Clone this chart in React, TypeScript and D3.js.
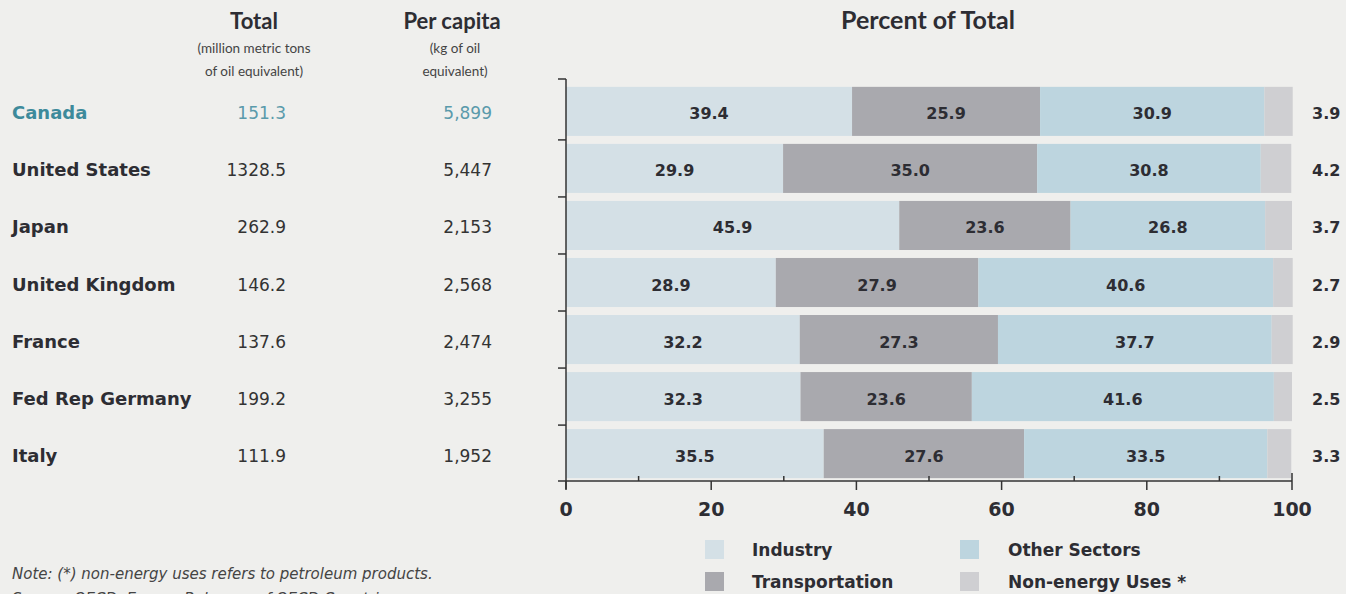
import * as d3 from "d3";

const countries = ["Canada", "United States", "Japan", "United Kingdom", "France", "Fed Rep Germany", "Italy"];
const totals = ["151.3", "1328.5", "262.9", "146.2", "137.6", "199.2", "111.9"];
const perCapita = ["5,899", "5,447", "2,153", "2,568", "2,474", "3,255", "1,952"];
const industry = [39.4, 29.9, 45.9, 28.9, 32.2, 32.3, 35.5];
const transportation = [25.9, 35.0, 23.6, 27.9, 27.3, 23.6, 27.6];
const otherSectors = [30.9, 30.8, 26.8, 40.6, 37.7, 41.6, 33.5];
const nonEnergy = [3.9, 4.2, 3.7, 2.7, 2.9, 2.5, 3.3];
const sectorKeys = ["Industry", "Transportation", "Other Sectors", "Non-energy Uses *"];
const xTicks = [0, 20, 40, 60, 80, 100];
const minorTicks = [10, 30, 50, 70, 90];

const WIDTH = 1346;
const HEIGHT = 594;
const HEAD = "Lato, 'Open Sans', sans-serif";
const BODY = "'DejaVu Sans', sans-serif";
const DARK = "#2d2d33";
const TEAL = "#3d8a9b";
const COLORS = ["#d4e0e6", "#a9a9ae", "#bdd5df", "#cfcfd2"];

// plot box
const X0 = 566;
const X1 = 1292;
const Y0 = 79;
const Y1 = 481;

export default function App() {
  const rows = countries.map((c, i) => ({
    country: c,
    "Industry": industry[i],
    "Transportation": transportation[i],
    "Other Sectors": otherSectors[i],
    "Non-energy Uses *": nonEnergy[i],
  }));

  const xScale = d3.scaleLinear().domain([0, 100]).range([X0, X1]);
  const yScale = d3.scaleBand<string>()
    .domain(countries)
    .range([84, Y1])
    .paddingInner(0.14)
    .paddingOuter(0.05);
  const color = d3.scaleOrdinal<string, string>().domain(sectorKeys).range(COLORS);

  const series = d3.stack<any>().keys(sectorKeys)(rows);
  const step = yScale.step();
  const bw = yScale.bandwidth();
  const gap = step - bw;
  const tickYs = [Y0, ...countries.slice(1).map((c) => (yScale(c) || 0) - gap / 2), Y1];

  return (
    <svg width={WIDTH} height={HEIGHT} style={{ position: "absolute", left: 0, top: 0 }} fontFamily={BODY}>
      <rect width={WIDTH} height={HEIGHT} fill="#efefed" />

      {/* column headers */}
      <g fill={DARK} textAnchor="middle" fontFamily={HEAD}>
        <text x={254} y={29} fontSize={22} fontWeight={700}>Total</text>
        <text x={254} y={53} fontSize={13.5} fill="#444">(million metric tons</text>
        <text x={254} y={76} fontSize={13.5} fill="#444">of oil equivalent)</text>
        <text x={452} y={29} fontSize={22} fontWeight={700}>Per capita</text>
        <text x={455} y={53} fontSize={13.5} fill="#444">(kg of oil</text>
        <text x={455} y={76} fontSize={13.5} fill="#444">equivalent)</text>
        <text x={928} y={29} fontSize={25} fontWeight={700}>Percent of Total</text>
      </g>

      {/* table */}
      {countries.map((c, i) => {
        const cy = (yScale(c) || 0) + bw / 2 + 8;
        const isCan = c === "Canada";
        return (
          <g key={c}>
            <text x={12} y={cy} fontSize={18} fontWeight={700} fill={isCan ? TEAL : DARK}>{c}</text>
            <text x={286} y={cy} fontSize={17} textAnchor="end" fill={isCan ? "#5a9aab" : "#333"}>{totals[i]}</text>
            <text x={492} y={cy} fontSize={17} textAnchor="end" fill={isCan ? "#5a9aab" : "#333"}>{perCapita[i]}</text>
          </g>
        );
      })}

      {/* stacked bars */}
      {series.map((s) => (
        <g key={s.key} fill={color(s.key)}>
          {s.map((d, j) => (
            <rect key={j}
              x={xScale(d[0])}
              y={yScale(d.data.country)}
              width={Math.max(0, xScale(d[1]) - xScale(d[0]))}
              height={bw} />
          ))}
        </g>
      ))}

      {/* bar labels */}
      {series.map((s, k) => (
        <g key={s.key} fontSize={16} fontWeight={700} fill={DARK}>
          {s.map((d, j) => {
            const cy = (yScale(d.data.country) || 0) + bw / 2 + 8;
            const v = d[1] - d[0];
            const last = k === series.length - 1;
            return (
              <text key={j}
                x={last ? xScale(100) + 20 : (xScale(d[0]) + xScale(d[1])) / 2}
                y={cy}
                textAnchor={last ? "start" : "middle"}>
                {v.toFixed(1)}
              </text>
            );
          })}
        </g>
      ))}

      {/* axes */}
      <g stroke="#333" strokeWidth={1.5} fill="none">
        <line x1={X0} x2={X0} y1={Y0} y2={Y1 + 8} />
        <line x1={X0} x2={xScale(100)} y1={Y1} y2={Y1} />
        {tickYs.map((y, i) => (
          <line key={i} x1={X0 - 8} x2={X0} y1={y} y2={y} />
        ))}
        {xTicks.map((t) => (
          <line key={t} x1={xScale(t)} x2={xScale(t)} y1={t === 100 ? Y1 - 8 : Y1} y2={Y1 + 9} />
        ))}
        {minorTicks.map((t) => (
          <line key={t} x1={xScale(t)} x2={xScale(t)} y1={Y1 - 5} y2={Y1} />
        ))}
      </g>
      <g fontSize={19} fontWeight={700} fill={DARK} textAnchor="middle">
        {xTicks.map((t) => (
          <text key={t} x={xScale(t)} y={516}>{t}</text>
        ))}
      </g>

      {/* legend */}
      {sectorKeys.map((k, i) => {
        const lx = i < 2 ? 705 : 960;
        const ly = i % 2 === 0 ? 540 : 572;
        return (
          <g key={k}>
            <rect x={lx} y={ly} width={19} height={19} fill={color(k)} />
            <text x={lx + (i < 2 ? 47 : 48)} y={ly + 16} fontSize={17} fontWeight={700} fill={DARK}>{k}</text>
          </g>
        );
      })}

      {/* note */}
      <g fontSize={15} fontStyle="italic" fill="#444">
        <text x={12} y={579}>Note: (*) non-energy uses refers to petroleum products.</text>
        <text x={12} y={604}>Source: OECD, Energy Balances of OECD Countries.</text>
      </g>
    </svg>
  );
}
